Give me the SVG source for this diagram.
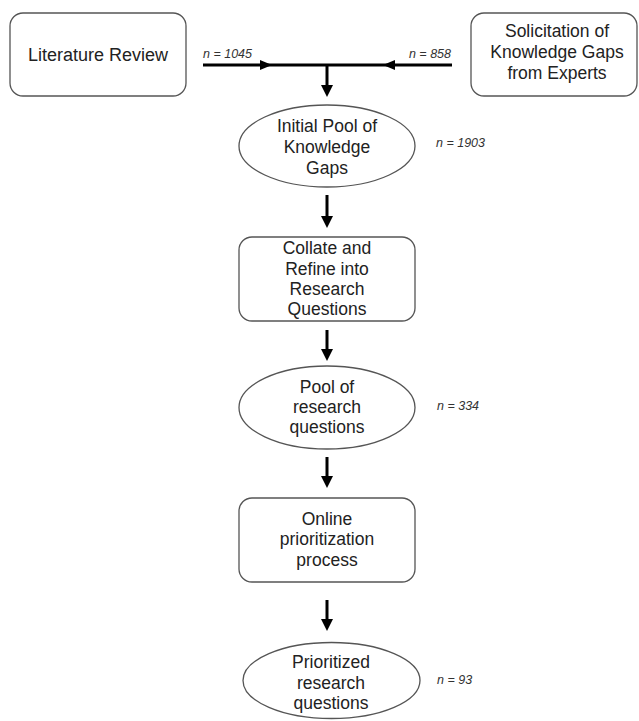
<svg xmlns="http://www.w3.org/2000/svg" width="639" height="721" viewBox="0 0 639 721">
<style>
.box{fill:#fff;stroke:#555;stroke-width:1.3}
.t{font-family:"Liberation Sans",Arial,sans-serif;font-size:17.5px;fill:#222;text-anchor:middle}
.n{font-family:"Liberation Sans",Arial,sans-serif;font-size:12.5px;font-style:italic;fill:#333}
.ln{stroke:#000;stroke-width:3;fill:none}
.hd{fill:#000}
</style>
<rect width="639" height="721" fill="#fff"/>
<g id="connectors">
<line class="ln" x1="203" y1="65" x2="452" y2="65"/>
<polygon class="hd" points="272,65 260,60 260,70"/>
<polygon class="hd" points="383,65 395,60 395,70"/>
<line class="ln" x1="327" y1="65" x2="327" y2="86"/>
<polygon class="hd" points="327,97 321,85 333,85"/>
<line class="ln" x1="327" y1="195" x2="327" y2="217"/>
<polygon class="hd" points="327,228 321,216 333,216"/>
<line class="ln" x1="327" y1="330" x2="327" y2="350"/>
<polygon class="hd" points="327,361 321,349 333,349"/>
<line class="ln" x1="327" y1="457" x2="327" y2="477"/>
<polygon class="hd" points="327,488 321,476 333,476"/>
<line class="ln" x1="327" y1="600" x2="327" y2="620"/>
<polygon class="hd" points="327,631 321,619 333,619"/>
<text class="n" x="203" y="58">n = 1045</text>
<text class="n" x="451" y="58" text-anchor="end">n = 858</text>
</g>
<g id="literature-review">
<rect class="box" x="10" y="13" width="176" height="83" rx="13"/>
<text class="t" x="98" y="61" style="font-size:18px">Literature Review</text>
</g>
<g id="solicitation">
<rect class="box" x="471" y="13" width="166" height="83" rx="13"/>
<text class="t" x="557" y="37">Solicitation  of</text>
<text class="t" x="557" y="58">Knowledge  Gaps</text>
<text class="t" x="557" y="79">from Experts</text>
</g>
<g id="initial-pool">
<ellipse class="box" cx="327" cy="146" rx="88" ry="41"/>
<text class="t" x="327" y="132">Initial Pool of</text>
<text class="t" x="327" y="153">Knowledge</text>
<text class="t" x="327" y="174">Gaps</text>
<text class="n" x="436" y="147">n = 1903</text>
</g>
<g id="collate">
<rect class="box" x="239" y="237" width="176" height="84" rx="13"/>
<text class="t" x="327" y="254">Collate and</text>
<text class="t" x="327" y="275">Refine into</text>
<text class="t" x="327" y="295">Research</text>
<text class="t" x="327" y="315">Questions</text>
</g>
<g id="pool-research">
<ellipse class="box" cx="327" cy="407.5" rx="88" ry="41.5"/>
<text class="t" x="327" y="393">Pool of</text>
<text class="t" x="327" y="413">research</text>
<text class="t" x="327" y="433">questions</text>
<text class="n" x="437" y="410">n = 334</text>
</g>
<g id="online">
<rect class="box" x="239" y="498" width="176" height="84" rx="13"/>
<text class="t" x="327" y="525">Online</text>
<text class="t" x="327" y="545">prioritization</text>
<text class="t" x="327" y="566">process</text>
</g>
<g id="prioritized">
<ellipse class="box" cx="331.5" cy="680.5" rx="88.5" ry="38"/>
<text class="t" x="331" y="668">Prioritized</text>
<text class="t" x="331" y="689">research</text>
<text class="t" x="331" y="709">questions</text>
<text class="n" x="437" y="684">n = 93</text>
</g>
</svg>
